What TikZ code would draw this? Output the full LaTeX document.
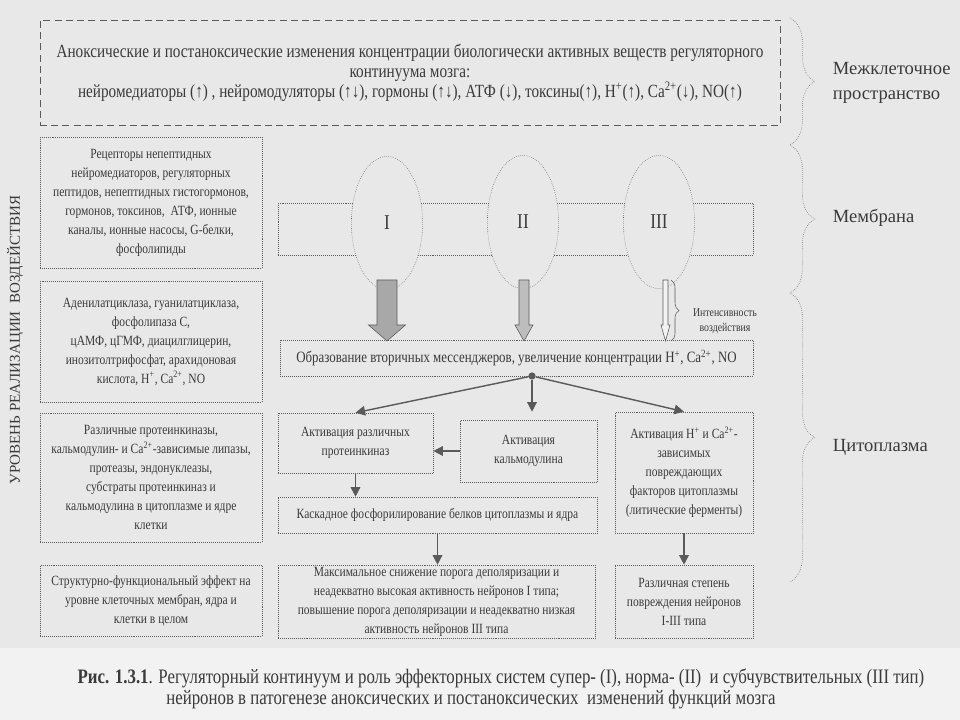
\documentclass[tikz,border=0pt]{standalone}
\usepackage{fontspec}
\setmainfont{Liberation Serif}[FakeStretch=0.82]
\newfontfamily\plainserif{Liberation Serif}
\usetikzlibrary{arrows.meta,positioning,calc,decorations.pathreplacing,shapes.geometric}
\definecolor{bggray}{HTML}{E8E8E8}
\definecolor{capgray}{HTML}{F2F2F2}
\definecolor{inkgray}{HTML}{3A3A3A}
\definecolor{linegray}{HTML}{5A5A5A}
\definecolor{arrowI}{HTML}{A8A8A8}
\definecolor{arrowII}{HTML}{BDBDBD}
\definecolor{arrowIII}{HTML}{F3F3F3}
\tikzset{
  every node/.append style={align=center, text=inkgray},
  effbox/.style={draw=linegray, densely dotted, inner sep=1pt, font=\fontsize{10}{13.5}\selectfont},
  levelbox/.style={effbox, minimum width=5.55cm},
  receptor/.style={draw=linegray, densely dotted, ellipse, fill=bggray, minimum width=1.78cm, minimum height=3.33cm, font=\fontsize{15}{17}\selectfont},
  flow/.style={-{Triangle[length=2.4mm,width=2.4mm]}, linegray, line width=1pt},
  zonebrace/.style={linegray, densely dotted, decorate, decoration={brace, amplitude=0.62cm}},
  zonelabel/.style={anchor=west, align=left, font=\plainserif\fontsize{13.2}{18}\selectfont}
}

\begin{document}
\begin{tikzpicture}[x=0.025cm, y=-0.025cm]
  \useasboundingbox (0,0) rectangle (960,720);
  \fill[bggray] (0,0) rectangle (960,720);
  \fill[capgray] (0,648) rectangle (960,720);

  % intercellular level
  \node[draw=linegray, dash pattern=on 5pt off 3pt, minimum width=18.5cm, minimum height=2.625cm, font=\fontsize{13.2}{14.2}\selectfont] (regulators) at (410,72.5)
    {Аноксические и постаноксические изменения концентрации биологически активных веществ регуляторного\\
     континуума мозга:\\
     нейромедиаторы (↑) , нейромодуляторы (↑↓), гормоны (↑↓), АТФ (↓), токсины(↑), H\textsuperscript{+}(↑), Ca\textsuperscript{2+}(↓), NO(↑)};

  % left column
  \node[levelbox, minimum height=3.275cm] (receptors) at (151,202.5)
    {Рецепторы непептидных\\ нейромедиаторов, регуляторных\\ пептидов, непептидных гистогормонов,\\ гормонов, токсинов,\ \ АТФ, ионные\\ каналы, ионные насосы, G-белки,\\ фосфолипиды};
  \node[levelbox, minimum height=3.025cm] (messengers) at (151,341.5)
    {Аденилатциклаза, гуанилатциклаза,\\ фосфолипаза С,\\ цАМФ, цГМФ, диацилглицерин,\\ инозитолтрифосфат, арахидоновая\\ кислота, H\textsuperscript{+}, Ca\textsuperscript{2+}, NO};
  \node[levelbox, minimum height=3.225cm] (enzymes) at (151,477.5)
    {Различные протеинкиназы,\\ кальмодулин- и Ca\textsuperscript{2+}-зависимые липазы,\\ протеазы, эндонуклеазы,\\ субстраты протеинкиназ и\\ кальмодулина в цитоплазме и ядре\\ клетки};
  \node[levelbox, minimum height=1.775cm] (effect) at (151,600.5)
    {Структурно-функциональный эффект на\\ уровне клеточных мембран, ядра и\\ клетки в целом};

  \node[rotate=90, font=\plainserif\fontsize{10.7}{12}\selectfont] (level) at (15,340) {УРОВЕНЬ РЕАЛИЗАЦИИ\ \ ВОЗДЕЙСТВИЯ};

  % membrane with receptors
  \node[draw=linegray, densely dotted, minimum width=11.875cm, minimum height=1.3cm] (membrane) at (515.5,229) {};
  \node[receptor] (typeI) at (387,223) {I};
  \node[receptor] (typeII) at (523,222) {II};
  \node[receptor] (typeIII) at (659,222) {III};

  \foreach \cx/\sw/\hw/\tone in {387/10/18.5/arrowI, 524/5/9/arrowII, 665.5/2.5/4.5/arrowIII}
    \draw[linegray, fill=\tone] (\cx-\sw,280) -- (\cx-\sw,325) -- (\cx-\hw,325) -- (\cx,341)
      -- (\cx+\hw,325) -- (\cx+\sw,325) -- (\cx+\sw,280) -- cycle;

  \draw[linegray, decorate, decoration={brace, amplitude=2mm}] (671,280) -- (671,341);
  \node[font=\fontsize{8.5}{11}\selectfont] (intensity) at (725,321) {Интенсивность\\ воздействия};

  % cytoplasm
  \node[effbox, minimum width=11.825cm, minimum height=0.9cm, font=\fontsize{11.2}{13.5}\selectfont] (second) at (516.5,358)
    {Образование вторичных мессенджеров, увеличение концентрации H\textsuperscript{+}, Ca\textsuperscript{2+}, NO};
  \node[circle, fill=linegray, inner sep=0pt, minimum size=0.18cm] (hub) at (532,376) {};

  \node[effbox, minimum width=3.875cm, minimum height=1.5cm] (kinases) at (355.5,443) {Активация различных\\ протеинкиназ};
  \node[effbox, minimum width=3.425cm, minimum height=1.55cm] (calmod) at (528.5,451) {Активация\\ кальмодулина};
  \node[effbox, minimum width=3.45cm, minimum height=3.025cm] (lytic) at (684,472.5)
    {Активация H\textsuperscript{+} и Ca\textsuperscript{2+}-\\ зависимых\\ повреждающих\\ факторов цитоплазмы\\ (литические ферменты)};
  \node[effbox, minimum width=7.975cm, minimum height=0.9cm] (cascade) at (437.5,515)
    {Каскадное фосфорилирование белков цитоплазмы и ядра};
  \node[effbox, minimum width=7.925cm, minimum height=1.825cm] (threshold) at (436.5,601.5)
    {Максимальное снижение порога деполяризации и\\ неадекватно высокая активность нейронов I типа;\\ повышение порога деполяризации и неадекватно низкая\\ активность нейронов III типа};
  \node[effbox, minimum width=3.45cm, minimum height=1.825cm] (damage) at (684,601.5)
    {Различная степень\\ повреждения нейронов\\ I-III типа};

  \draw[flow] (hub) -- (kinases.north);
  \draw[flow, shorten >=0.2cm] (hub) -- (hub |- calmod.north);
  \draw[flow] (hub) -- (lytic.north);
  \draw[flow] (calmod.west) -- (calmod.west -| kinases.east);
  \draw[flow] (kinases.south) -- (kinases.south |- cascade.north);
  \draw[flow] (cascade.south) -- (cascade.south |- threshold.north);
  \draw[flow] (lytic.south) -- (damage.north);

  % zones on the right
  \draw[zonebrace] (790,18) -- (790,145);
  \draw[zonebrace] (790,145) -- (790,293);
  \draw[zonebrace] (790,293) -- (790,582);
  \node[zonelabel] (space) at (828,83) {Межклеточное\\ пространство};
  \node[zonelabel] (membr) at (828,218) {Мембрана};
  \node[zonelabel] (cyto) at (828,447) {Цитоплазма};

  % caption
  \node[font=\fontsize{14.6}{16}\selectfont] (caption) at (501,678)
    {\textbf{Рис. 1.3.1}. Регуляторный континуум и роль эффекторных систем супер- (I), норма- (II)\ \ и субчувствительных (III тип)};
  \node[font=\fontsize{14.6}{16}\selectfont] (caption2) at (471,700)
    {нейронов в патогенезе аноксических и постаноксических\ \ изменений функций мозга};
\end{tikzpicture}
\end{document}
